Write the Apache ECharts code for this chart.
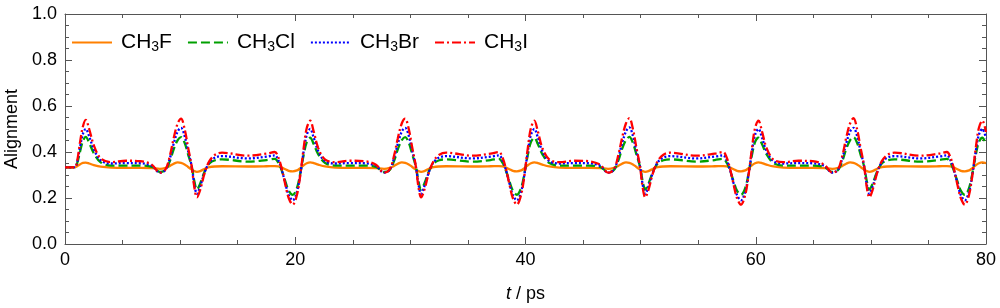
<!DOCTYPE html>
<html>
<head>
<meta charset="utf-8">
<script src="https://cdn.jsdelivr.net/npm/echarts@6/dist/echarts.min.js"></script>
<style>
html,body{margin:0;padding:0;background:#fff;}
#chart{width:1000px;height:308px;}
</style>
</head>
<body>
<div id="chart"></div>
<script>
// time axis (ps)
const t = [
  0, 0.85, 1.05, 1.3, 1.55, 1.8, 2.1, 2.5, 3.1, 4.0, 5.3,
  6.54, 7.54, 8.24, 8.74, 9.14, 9.44, 9.79, 10.08, 10.39, 10.69, 11.01, 11.24, 11.46, 11.74, 12.14, 12.54, 13.04, 13.64,
  15.9, 17.5,
  18.22, 18.55, 18.85, 19.14, 19.43, 19.78, 20.15, 20.44, 20.73, 21.0, 21.3, 21.6, 22.0, 22.6, 23.47,
  24.77,
  26.01, 27.01, 27.71, 28.21, 28.61, 28.91, 29.26, 29.55, 29.86, 30.16, 30.48, 30.71, 30.93, 31.21, 31.61, 32.01, 32.51, 33.11,
  35.37, 36.97,
  37.69, 38.02, 38.32, 38.61, 38.9, 39.25, 39.62, 39.91, 40.2, 40.47, 40.77, 41.07, 41.47, 42.07, 42.94,
  44.24,
  45.48, 46.48, 47.18, 47.68, 48.08, 48.38, 48.73, 49.02, 49.33, 49.63, 49.95, 50.18, 50.40, 50.68, 51.08, 51.48, 51.98, 52.58,
  54.84, 56.44,
  57.16, 57.49, 57.79, 58.08, 58.37, 58.72, 59.09, 59.38, 59.67, 59.94, 60.24, 60.54, 60.94, 61.54, 62.41,
  63.71,
  64.95, 65.95, 66.65, 67.15, 67.55, 67.85, 68.20, 68.49, 68.80, 69.10, 69.42, 69.65, 69.87, 70.15, 70.55, 70.95, 71.45, 72.05,
  74.31, 75.91,
  76.6, 76.93, 77.23, 77.52, 77.81, 78.16, 78.53, 78.82, 79.11, 79.38, 79.68, 80.0
];

const ch3f = [
  0.333, 0.333, 0.338, 0.346, 0.353, 0.354, 0.350, 0.343, 0.336, 0.332, 0.331,
  0.331, 0.330, 0.327, 0.331, 0.340, 0.349, 0.355, 0.353, 0.346, 0.335, 0.324, 0.317, 0.314, 0.317, 0.327, 0.334, 0.337, 0.338,
  0.337, 0.338,
  0.339, 0.337, 0.332, 0.325, 0.318, 0.316, 0.320, 0.330, 0.342, 0.351, 0.355, 0.352, 0.345, 0.337, 0.332,
  0.331,
  0.331, 0.330, 0.327, 0.331, 0.340, 0.349, 0.355, 0.353, 0.346, 0.335, 0.324, 0.317, 0.314, 0.317, 0.327, 0.334, 0.337, 0.338,
  0.337, 0.338,
  0.339, 0.337, 0.332, 0.325, 0.318, 0.316, 0.320, 0.330, 0.342, 0.351, 0.355, 0.352, 0.345, 0.337, 0.332,
  0.331,
  0.331, 0.330, 0.327, 0.331, 0.340, 0.349, 0.355, 0.353, 0.346, 0.335, 0.324, 0.317, 0.314, 0.317, 0.327, 0.334, 0.337, 0.338,
  0.337, 0.338,
  0.339, 0.337, 0.332, 0.325, 0.318, 0.316, 0.320, 0.330, 0.342, 0.351, 0.355, 0.352, 0.345, 0.337, 0.332,
  0.331,
  0.331, 0.330, 0.327, 0.331, 0.340, 0.349, 0.355, 0.353, 0.346, 0.335, 0.324, 0.317, 0.314, 0.317, 0.327, 0.334, 0.337, 0.338,
  0.337, 0.338,
  0.339, 0.337, 0.332, 0.325, 0.318, 0.316, 0.320, 0.330, 0.342, 0.351, 0.355, 0.352
];

const ch3cl = [
  0.333, 0.334, 0.350, 0.400, 0.447, 0.466, 0.440, 0.395, 0.355, 0.341, 0.341,
  0.341, 0.335, 0.313, 0.322, 0.365, 0.412, 0.452, 0.465, 0.440, 0.390, 0.336, 0.272, 0.237, 0.262, 0.316, 0.350, 0.364, 0.368,
  0.358, 0.365,
  0.370, 0.352, 0.316, 0.272, 0.232, 0.214, 0.244, 0.308, 0.387, 0.443, 0.462, 0.435, 0.390, 0.352, 0.341,
  0.341,
  0.341, 0.335, 0.313, 0.322, 0.365, 0.412, 0.452, 0.465, 0.440, 0.390, 0.336, 0.272, 0.237, 0.262, 0.316, 0.350, 0.364, 0.368,
  0.358, 0.365,
  0.370, 0.352, 0.316, 0.272, 0.232, 0.214, 0.244, 0.308, 0.387, 0.443, 0.462, 0.435, 0.390, 0.352, 0.341,
  0.341,
  0.341, 0.335, 0.313, 0.322, 0.365, 0.412, 0.452, 0.466, 0.440, 0.390, 0.336, 0.272, 0.237, 0.262, 0.316, 0.350, 0.364, 0.368,
  0.358, 0.365,
  0.370, 0.352, 0.316, 0.272, 0.232, 0.214, 0.244, 0.308, 0.387, 0.443, 0.462, 0.435, 0.390, 0.352, 0.341,
  0.341,
  0.341, 0.335, 0.313, 0.322, 0.365, 0.412, 0.452, 0.465, 0.440, 0.390, 0.336, 0.272, 0.237, 0.262, 0.316, 0.350, 0.364, 0.368,
  0.358, 0.365,
  0.370, 0.352, 0.316, 0.272, 0.232, 0.214, 0.244, 0.308, 0.387, 0.443, 0.462, 0.433
];

const ch3br = [
  0.333, 0.334, 0.355, 0.420, 0.478, 0.500, 0.468, 0.412, 0.364, 0.350, 0.352,
  0.351, 0.340, 0.310, 0.323, 0.378, 0.436, 0.490, 0.505, 0.470, 0.404, 0.336, 0.258, 0.218, 0.250, 0.313, 0.355, 0.376, 0.382,
  0.372, 0.380,
  0.385, 0.362, 0.318, 0.263, 0.213, 0.190, 0.228, 0.303, 0.402, 0.475, 0.500, 0.463, 0.403, 0.360, 0.350,
  0.352,
  0.351, 0.340, 0.310, 0.323, 0.378, 0.436, 0.490, 0.505, 0.470, 0.404, 0.336, 0.258, 0.218, 0.250, 0.313, 0.355, 0.376, 0.382,
  0.372, 0.380,
  0.385, 0.362, 0.318, 0.263, 0.213, 0.190, 0.228, 0.303, 0.402, 0.475, 0.500, 0.463, 0.403, 0.360, 0.350,
  0.352,
  0.351, 0.340, 0.310, 0.323, 0.378, 0.436, 0.490, 0.507, 0.470, 0.404, 0.336, 0.258, 0.218, 0.250, 0.313, 0.355, 0.376, 0.382,
  0.372, 0.380,
  0.385, 0.362, 0.318, 0.263, 0.213, 0.190, 0.228, 0.303, 0.402, 0.475, 0.500, 0.463, 0.403, 0.360, 0.350,
  0.352,
  0.351, 0.340, 0.310, 0.323, 0.378, 0.436, 0.490, 0.505, 0.470, 0.404, 0.336, 0.258, 0.218, 0.250, 0.313, 0.355, 0.376, 0.382,
  0.372, 0.380,
  0.385, 0.362, 0.318, 0.263, 0.213, 0.190, 0.228, 0.303, 0.402, 0.475, 0.500, 0.460
];

const ch3i = [
  0.333, 0.334, 0.360, 0.440, 0.510, 0.540, 0.500, 0.430, 0.372, 0.356, 0.362,
  0.360, 0.345, 0.310, 0.325, 0.390, 0.460, 0.525, 0.545, 0.500, 0.420, 0.336, 0.245, 0.203, 0.235, 0.310, 0.360, 0.388, 0.397,
  0.384, 0.393,
  0.400, 0.374, 0.323, 0.258, 0.200, 0.171, 0.214, 0.301, 0.417, 0.504, 0.536, 0.490, 0.417, 0.367, 0.356,
  0.362,
  0.360, 0.345, 0.310, 0.325, 0.390, 0.460, 0.525, 0.545, 0.500, 0.420, 0.336, 0.245, 0.203, 0.235, 0.310, 0.360, 0.388, 0.397,
  0.384, 0.393,
  0.400, 0.374, 0.323, 0.258, 0.200, 0.171, 0.214, 0.301, 0.417, 0.504, 0.536, 0.490, 0.417, 0.367, 0.356,
  0.362,
  0.360, 0.345, 0.310, 0.325, 0.390, 0.460, 0.525, 0.547, 0.500, 0.420, 0.336, 0.245, 0.203, 0.235, 0.310, 0.360, 0.388, 0.397,
  0.384, 0.393,
  0.400, 0.374, 0.323, 0.258, 0.200, 0.171, 0.214, 0.301, 0.417, 0.504, 0.536, 0.490, 0.417, 0.367, 0.356,
  0.362,
  0.360, 0.345, 0.310, 0.325, 0.390, 0.460, 0.525, 0.547, 0.500, 0.420, 0.336, 0.245, 0.203, 0.235, 0.310, 0.360, 0.388, 0.397,
  0.384, 0.393,
  0.400, 0.374, 0.323, 0.258, 0.200, 0.171, 0.214, 0.301, 0.417, 0.504, 0.536, 0.487
];

const seriesNames = ['CH3F', 'CH3Cl', 'CH3Br', 'CH3I'];
const yTickLabels = ['0.0', '0.2', '0.4', '0.6', '0.8', '1.0'];
const xTickLabels = ['0', '20', '40', '60', '80'];

const FONT = '"Liberation Sans", Arial, Helvetica, sans-serif';
const frameColor = '#555';

function pairs(vals) { return t.map((x, i) => [x, vals[i]]); }

const styles = [
  { color: '#FF8000', type: 'solid' },
  { color: '#00A000', type: [9, 4] },
  { color: '#0000FF', type: [2, 2] },
  { color: '#FF0000', type: [9, 3, 2, 3] }
];
const data = [ch3f, ch3cl, ch3br, ch3i];

const baseX = {
  type: 'value', min: 0, max: 80, interval: 20,
  axisLine: { show: true, onZero: false, lineStyle: { color: frameColor, width: 1 } },
  axisTick: { show: true, inside: true, length: 7, lineStyle: { color: frameColor } },
  minorTick: { show: true, splitNumber: 4, length: 4, lineStyle: { color: frameColor } },
  splitLine: { show: false },
  minorSplitLine: { show: false }
};
const baseY = {
  type: 'value', min: 0, max: 1, interval: 0.2,
  axisLine: { show: true, onZero: false, lineStyle: { color: frameColor, width: 1 } },
  axisTick: { show: true, inside: true, length: 7, lineStyle: { color: frameColor } },
  minorTick: { show: true, splitNumber: 4, length: 4, lineStyle: { color: frameColor } },
  splitLine: { show: false },
  minorSplitLine: { show: false }
};

const chart = echarts.init(document.getElementById('chart'), null, { renderer: 'canvas' });
chart.setOption({
  animation: false,
  backgroundColor: '#fff',
  grid: { left: 65, right: 14, top: 14, bottom: 64, containLabel: false, outerBoundsMode: 'none' },
  legend: {
    left: 66, top: 27,
    itemWidth: 40, itemHeight: 14, itemGap: 15,
    data: seriesNames,
    itemStyle: { opacity: 0 },
    formatter: n => n.replace(/(\d)/, '{s|$1}'),
    textStyle: {
      fontFamily: FONT, fontSize: 21, color: '#000', padding: [0, 0, 0, 4],
      rich: { s: { fontFamily: FONT, fontSize: 14, color: '#000', padding: [10, 0, 0, 0] } }
    }
  },
  xAxis: [
    Object.assign({}, baseX, {
      position: 'bottom',
      axisLabel: { show: true, fontFamily: FONT, fontSize: 18, color: '#000', margin: 7,
        formatter: v => xTickLabels[Math.round(v / 20)] },
      name: '{i|t} / ps', nameLocation: 'middle', nameGap: 41,
      nameTextStyle: { fontFamily: FONT, fontSize: 18, color: '#000',
        rich: { i: { fontFamily: FONT, fontSize: 18, fontStyle: 'italic', color: '#000' } } }
    }),
    Object.assign({}, baseX, { position: 'top', axisLabel: { show: false } })
  ],
  yAxis: [
    Object.assign({}, baseY, {
      position: 'left',
      axisLabel: { show: true, fontFamily: FONT, fontSize: 18, color: '#000', margin: 8,
        formatter: v => yTickLabels[Math.round(v / 0.2)] },
      name: 'Alignment', nameLocation: 'middle', nameGap: 42,
      nameTextStyle: { fontFamily: FONT, fontSize: 18, color: '#000' }
    }),
    Object.assign({}, baseY, { position: 'right', axisLabel: { show: false } })
  ],
  series: seriesNames.map((name, k) => ({
    name: name, type: 'line', xAxisIndex: 0, yAxisIndex: 0,
    data: pairs(data[k]),
    showSymbol: false, symbol: 'none',
    smooth: 0.35,
    z: 2 + k,
    color: styles[k].color,
    lineStyle: { color: styles[k].color, width: 2.3, type: styles[k].type }
  }))
});
</script>
</body>
</html>
